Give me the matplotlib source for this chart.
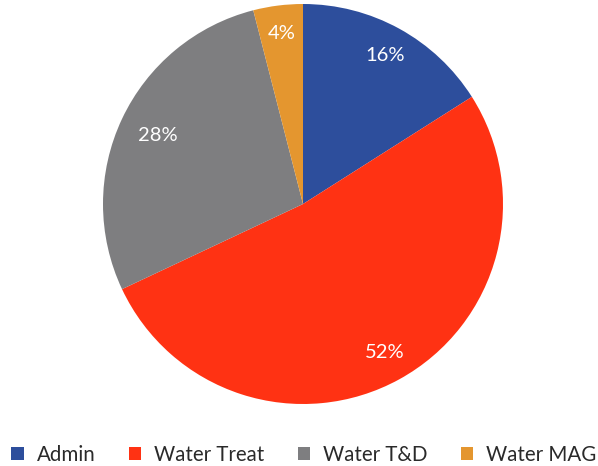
import matplotlib
matplotlib.use("Agg")
import matplotlib.pyplot as plt
import numpy as np
from matplotlib.patches import Patch

categories = ["Admin", "Water Treat", "Water T&D", "Water MAG"]
shares = [16, 52, 28, 4]
colors = ["#2D4E9C", "#FF3213", "#7E7E80", "#E4962F"]
label_radius = [0.85, 0.85, 0.80, 0.86]

plt.rcParams["font.family"] = ["Lato", "DejaVu Sans"]

fig = plt.figure(figsize=(5.98, 4.66), dpi=100)
ax = fig.add_axes([103 / 598, 62 / 466, 400 / 598, 400 / 466])

wedges, texts, autotexts = ax.pie(
    shares,
    colors=colors,
    startangle=90,
    counterclock=False,
    autopct="%d%%",
    pctdistance=0.84,
    wedgeprops=dict(linewidth=0),
    textprops=dict(color="white", fontsize=14.5),
)
# place each percentage label along its wedge's bisector
for w, t, r in zip(wedges, autotexts, label_radius):
    mid = np.deg2rad((w.theta1 + w.theta2) / 2)
    t.set_position((r * np.cos(mid), r * np.sin(mid)))

ax.set_xlim(-1, 1)
ax.set_ylim(-1, 1)
ax.set_aspect("equal")

handles = [Patch(facecolor=c, edgecolor="none") for c in colors]
fig.legend(
    handles, categories,
    loc="center", bbox_to_anchor=(304 / 598, 11 / 466),
    ncol=4, frameon=False, fontsize=14.8,
    handlelength=0.6, handleheight=0.6, handletextpad=0.65, columnspacing=1.6,
    labelcolor="#2a2a2a", borderpad=0, borderaxespad=0,
)

fig.savefig("out.png", dpi=100)
